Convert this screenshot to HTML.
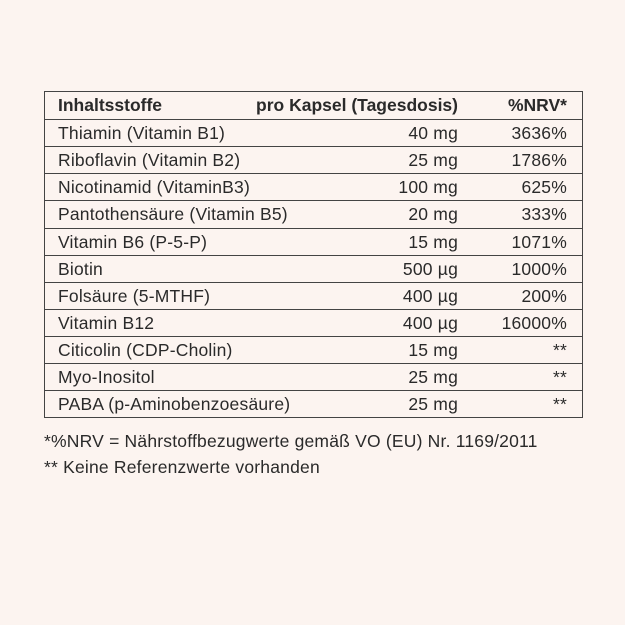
<!DOCTYPE html><html><head><style>
body{margin:0;width:625px;height:625px;background:#fcf4f0;font-family:"Liberation Sans",sans-serif;color:#2a2a2a;position:relative;overflow:hidden}
.t{position:absolute;left:44px;top:91px;width:537px;height:325px;border:1px solid #444;box-sizing:content-box}
.r{position:absolute;left:0;width:537px;height:27px;border-top:1px solid #444;font-size:17.5px;line-height:27px;letter-spacing:0.2px}
.r:first-child{border-top:none}
.a{position:absolute;left:13px}
.b{position:absolute;right:124px}
.c{position:absolute;right:15px}
.h{font-weight:bold;font-size:17.5px;letter-spacing:0}
.f{position:absolute;left:44px;font-size:17.5px;letter-spacing:0.2px}
</style></head><body>
<div class="t">
<div class="r h" style="top:0"><span class="a">Inhaltsstoffe</span><span class="b">pro Kapsel (Tagesdosis)</span><span class="c">%NRV*</span></div>
<div class="r" style="top:27px"><span class="a">Thiamin (Vitamin B1)</span><span class="b">40 mg</span><span class="c">3636%</span></div>
<div class="r" style="top:54px"><span class="a">Riboflavin (Vitamin B2)</span><span class="b">25 mg</span><span class="c">1786%</span></div>
<div class="r" style="top:81px"><span class="a">Nicotinamid (VitaminB3)</span><span class="b">100 mg</span><span class="c">625%</span></div>
<div class="r" style="top:108px"><span class="a">Pantothensäure (Vitamin B5)</span><span class="b">20 mg</span><span class="c">333%</span></div>
<div class="r" style="top:136px"><span class="a">Vitamin B6 (P-5-P)</span><span class="b">15 mg</span><span class="c">1071%</span></div>
<div class="r" style="top:163px"><span class="a">Biotin</span><span class="b">500 µg</span><span class="c">1000%</span></div>
<div class="r" style="top:190px"><span class="a">Folsäure (5-MTHF)</span><span class="b">400 µg</span><span class="c">200%</span></div>
<div class="r" style="top:217px"><span class="a">Vitamin B12</span><span class="b">400 µg</span><span class="c">16000%</span></div>
<div class="r" style="top:244px"><span class="a">Citicolin (CDP-Cholin)</span><span class="b">15 mg</span><span class="c">**</span></div>
<div class="r" style="top:271px"><span class="a">Myo-Inositol</span><span class="b">25 mg</span><span class="c">**</span></div>
<div class="r" style="top:298px"><span class="a">PABA (p-Aminobenzoesäure)</span><span class="b">25 mg</span><span class="c">**</span></div>
</div>
<div class="f" style="top:431px">*%NRV = Nährstoffbezugwerte gemäß VO (EU) Nr. 1169/2011</div>
<div class="f" style="top:457px">** Keine Referenzwerte vorhanden</div>
</body></html>
